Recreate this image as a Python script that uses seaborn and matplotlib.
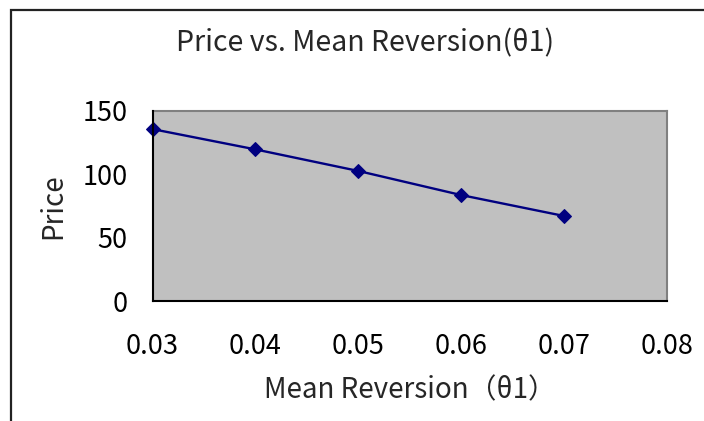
import matplotlib
matplotlib.use("Agg")
import matplotlib.pyplot as plt
import seaborn as sns
import pandas as pd
from matplotlib.patches import Rectangle

# Data
mean_reversion = [0.03, 0.04, 0.05, 0.06, 0.07]
price = [135.5, 119.5, 102.5, 83.5, 67.0]
x_ticks = [0.03, 0.04, 0.05, 0.06, 0.07, 0.08]
x_tick_labels = ["0.03", "0.04", "0.05", "0.06", "0.07", "0.08"]
y_ticks = [0, 50, 100, 150]
title = "Price vs. Mean Reversion(θ1)"
x_label = "Mean Reversion（θ1）"
y_label = "Price"

sns.set_style("white")
plt.rcParams["font.family"] = ["Noto Sans CJK JP", "DejaVu Sans"]

W, H = 704, 421
fig = plt.figure(figsize=(W / 100, H / 100), dpi=100)
fig.patch.set_facecolor("white")

L, R, T, B = 152.5, 667, 110.7, 301
ax = fig.add_axes([L / W, 1 - B / H, (R - L) / W, (B - T) / H])
ax.set_facecolor("#C0C0C0")

df = pd.DataFrame({"x": mean_reversion, "y": price})
sns.lineplot(data=df, x="x", y="y", ax=ax, color="#000080", linewidth=1.7,
             marker="D", markersize=7, markeredgecolor="#000080",
             markerfacecolor="#000080", clip_on=False, zorder=5)

ax.set_xlim(0.03, 0.08)
ax.set_ylim(0, 150)
ax.set_xticks(x_ticks)
ax.set_xticklabels(x_tick_labels)
ax.set_yticks(y_ticks)

for s in ["top", "right"]:
    ax.spines[s].set_color("#808080")
    ax.spines[s].set_linewidth(1.5)
for s in ["left", "bottom"]:
    ax.spines[s].set_color("#000000")
    ax.spines[s].set_linewidth(1.5)
    ax.spines[s].set_zorder(6)

ax.tick_params(axis="both", direction="in", length=7, width=1.2,
               color="#333333", labelsize=19.5, labelcolor="black")
ax.tick_params(axis="x", pad=23)
ax.tick_params(axis="y", pad=18)

ax.set_xlabel(x_label, fontsize=20)
ax.xaxis.label.set_va("center")
ax.xaxis.set_label_coords(0.5, -(390 - B) / (B - T))
ax.set_ylabel(y_label, fontsize=20)
ax.yaxis.label.set_va("center")
ax.yaxis.set_label_coords(-(L - 53) / (R - L), (B - 206) / (B - T))

fig.text(365 / W, 1 - 43 / H, title, ha="center", va="center", fontsize=20.5)

# outer chart border (only left and top visible)
fig.add_artist(Rectangle((11 / W, -0.2), 1.0, (1.2 - 9.5 / H), transform=fig.transFigure,
                         fill=False, edgecolor="#222222", linewidth=1.6, clip_on=False))

fig.savefig("out.png", dpi=100, facecolor="white")
